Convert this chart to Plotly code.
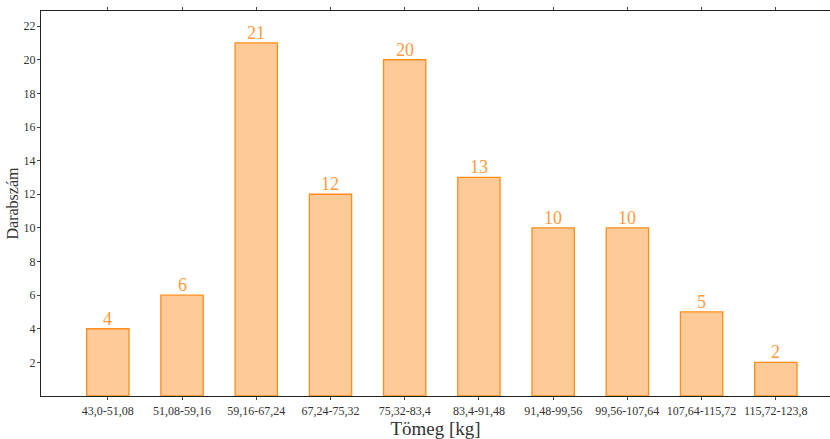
import plotly.graph_objects as go

# Weight classes (kg) and how many people fall into each
categories = ["43,0-51,08", "51,08-59,16", "59,16-67,24", "67,24-75,32", "75,32-83,4",
              "83,4-91,48", "91,48-99,56", "99,56-107,64", "107,64-115,72", "115,72-123,8"]
counts = [4, 6, 21, 12, 20, 13, 10, 10, 5, 2]
y_ticks = [2, 4, 6, 8, 10, 12, 14, 16, 18, 20, 22]

FONT = "'Times New Roman', 'Liberation Serif', Times, serif"
TEXT = "#333333"

x_pos = list(range(len(categories)))

fig = go.Figure(
    go.Bar(
        x=x_pos,
        y=counts,
        width=0.57,
        marker=dict(color="#FECB98", line=dict(color="#FF8C1A", width=1.3)),
    )
)

# value labels sitting just above each bar
for xi, c in zip(x_pos, counts):
    fig.add_annotation(
        x=xi, y=c, text=str(c), showarrow=False,
        yanchor="bottom", yshift=-2,
        font=dict(family=FONT, size=18, color="#FF9A3C"),
    )

fig.update_layout(
    width=830,
    height=439,
    margin=dict(l=41, r=0, t=11, b=43),
    paper_bgcolor="white",
    plot_bgcolor="white",
    showlegend=False,
    font=dict(family=FONT, color=TEXT),
)

fig.update_xaxes(
    range=[-0.9, 9.73],
    tickmode="array",
    tickvals=x_pos,
    ticktext=categories,
    tickangle=0,
    tickfont=dict(family=FONT, size=12, color=TEXT),
    ticks="outside",
    ticklen=3,
    tickcolor="#444444",
    showline=True,
    linecolor="#222222",
    linewidth=1.3,
    mirror="ticks",
    showgrid=False,
    zeroline=False,
    title=dict(text="Tömeg [kg]", font=dict(family=FONT, size=19, color=TEXT), standoff=6),
)

fig.update_yaxes(
    range=[0, 22.9],
    tickmode="array",
    tickvals=y_ticks,
    ticktext=[str(v) for v in y_ticks],
    tickfont=dict(family=FONT, size=12, color=TEXT),
    ticks="outside",
    ticklen=3,
    ticklabelstandoff=-1,
    tickcolor="#444444",
    showline=True,
    linecolor="#222222",
    linewidth=1.3,
    showgrid=False,
    zeroline=False,
    title=dict(text="Darabszám", font=dict(family=FONT, size=16, color=TEXT), standoff=0),
)

fig.write_html("out.html")
